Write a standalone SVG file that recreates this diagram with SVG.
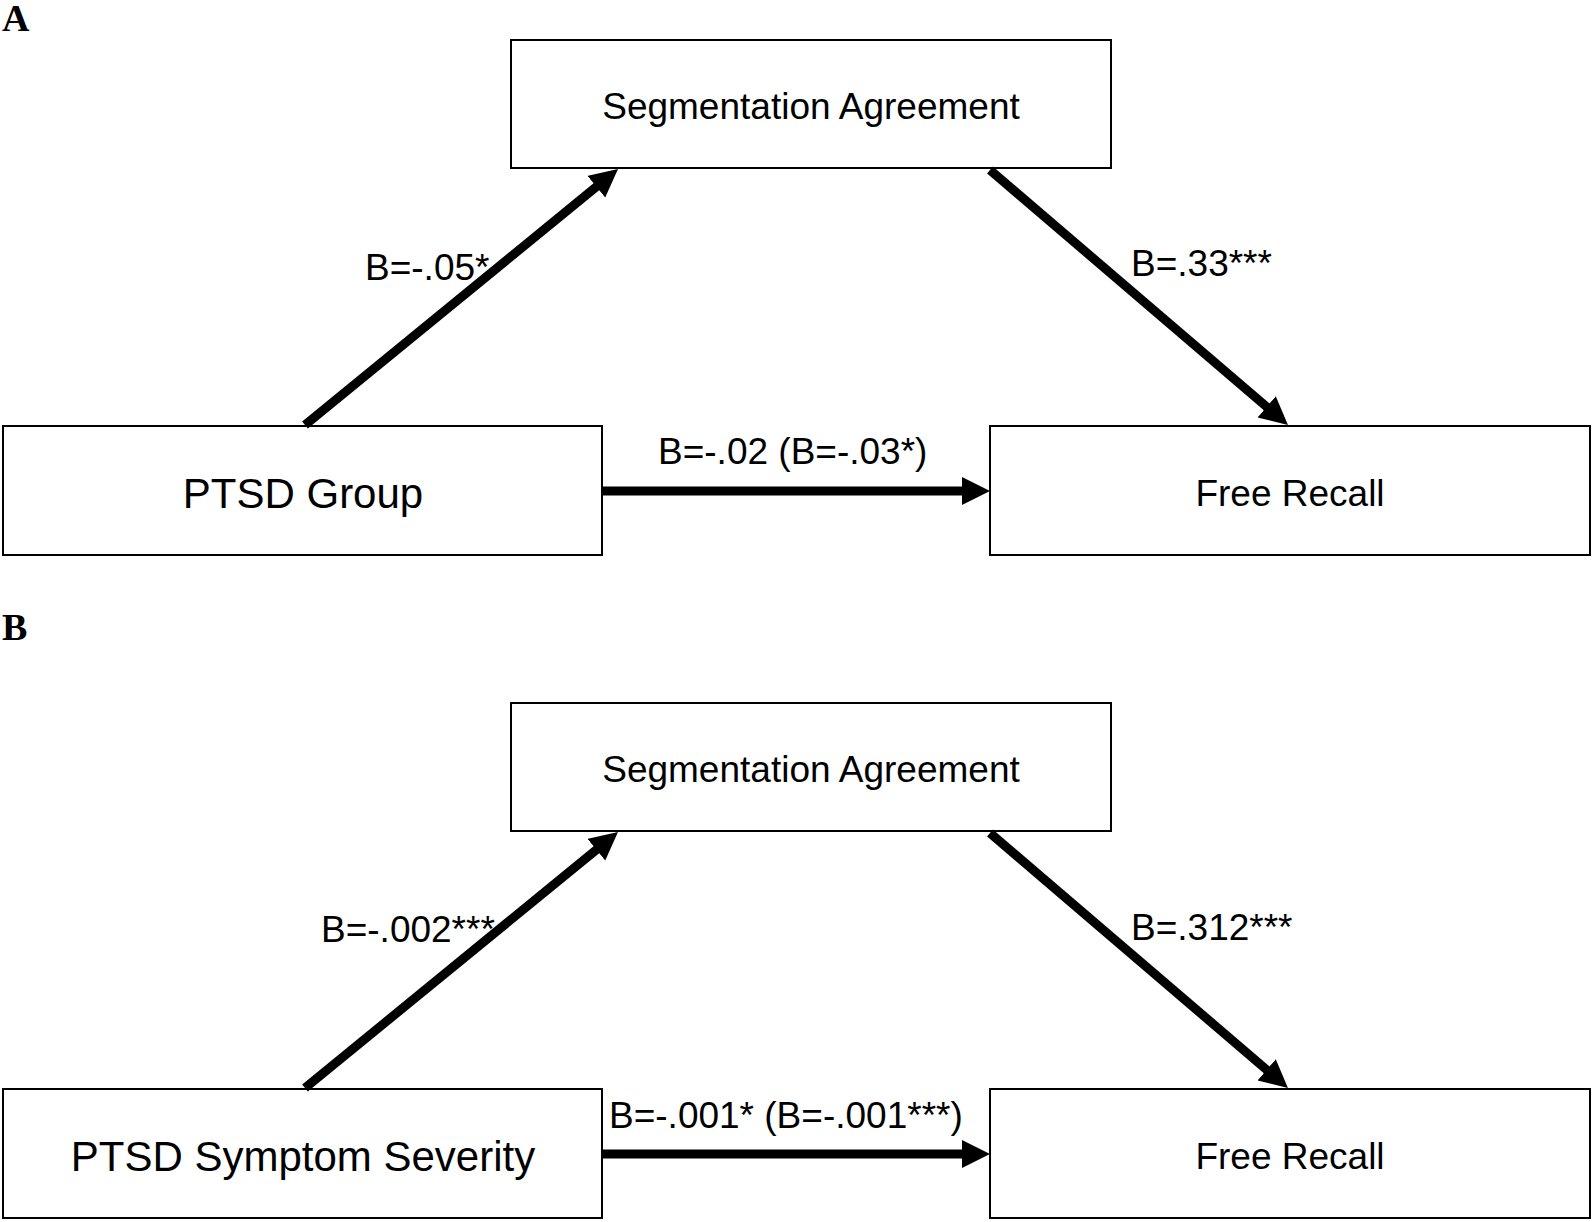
<svg xmlns="http://www.w3.org/2000/svg" width="1593" height="1222" viewBox="0 0 1593 1222">
<style>
.box{fill:#fff;stroke:#000;stroke-width:2}
.t{font-family:"Liberation Sans",Arial,sans-serif;fill:#000;text-anchor:middle}
.lbl{font-family:"Liberation Sans",Arial,sans-serif;fill:#000;font-size:37px}
.pl{font-family:"Liberation Serif","Times New Roman",serif;font-weight:bold;font-size:38px;fill:#000}
.c{stroke:#000;stroke-width:9;fill:none;marker-end:url(#ah)}
</style>
<defs>
<marker id="ah" markerUnits="userSpaceOnUse" markerWidth="30" markerHeight="30" refX="2" refY="14" orient="auto">
<path d="M0,0 L28,14 L0,28 z" fill="#000"/>
</marker>
</defs>
<rect width="1593" height="1222" fill="#fff"/>
<text class="pl" x="2" y="31">A</text>
<text class="pl" x="2" y="640">B</text>
<g id="a-seg"><rect class="box" x="511" y="40" width="600" height="128"/><text class="t" x="811" y="119" font-size="37">Segmentation Agreement</text></g>
<g id="a-ptsd"><rect class="box" x="3" y="426" width="599" height="129"/><text class="t" x="303" y="508" font-size="42">PTSD Group</text></g>
<g id="a-recall"><rect class="box" x="990" y="426" width="600" height="129"/><text class="t" x="1290" y="506" font-size="37">Free Recall</text></g>
<g id="b-seg"><rect class="box" x="511" y="703" width="600" height="128"/><text class="t" x="811" y="782" font-size="37">Segmentation Agreement</text></g>
<g id="b-ptsd"><rect class="box" x="3" y="1089" width="599" height="129"/><text class="t" x="303" y="1171" font-size="42">PTSD Symptom Severity</text></g>
<g id="b-recall"><rect class="box" x="990" y="1089" width="600" height="129"/><text class="t" x="1290" y="1169" font-size="37">Free Recall</text></g>
<g id="connectors">
<path class="c" d="M305,425 L597.9,185.5"/>
<path class="c" d="M990,170 L1268.2,408.1"/>
<path class="c" d="M602,491 L964,491"/>
<path class="c" d="M305,1088 L597.9,848.5"/>
<path class="c" d="M990,833 L1268.2,1071.1"/>
<path class="c" d="M602,1154 L964,1154"/>
<text class="lbl" x="365" y="280">B=-.05*</text>
<text class="lbl" x="1131" y="276">B=.33***</text>
<text class="lbl" x="658" y="464">B=-.02 (B=-.03*)</text>
<text class="lbl" x="321" y="942">B=-.002***</text>
<text class="lbl" x="1131" y="940">B=.312***</text>
<text class="lbl" x="609" y="1128">B=-.001* (B=-.001***)</text>
</g>
</svg>
